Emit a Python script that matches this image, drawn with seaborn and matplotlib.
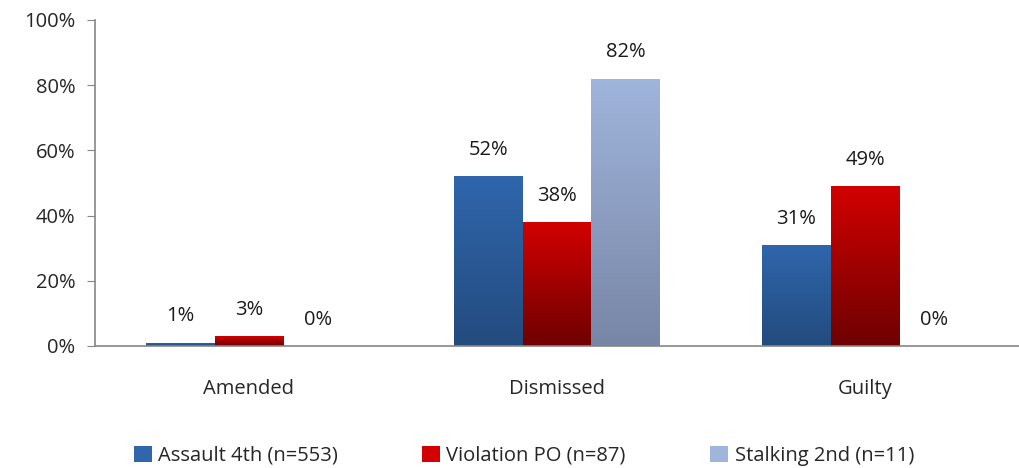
import numpy as np
import pandas as pd
import matplotlib
matplotlib.use("Agg")
import matplotlib.pyplot as plt
import seaborn as sns
from matplotlib.colors import LinearSegmentedColormap
from matplotlib.patches import Patch

categories = ["Amended", "Dismissed", "Guilty"]
series = ["Assault 4th (n=553)", "Violation PO (n=87)", "Stalking 2nd (n=11)"]
assault = [1, 52, 31]
violation = [3, 38, 49]
stalking = [0, 82, 0]

# gradient (top, bottom) per series
grads = [("#2F66AC", "#234B7E"), ("#D20000", "#6E0000"), ("#A0B5DC", "#7886A6")]

df = pd.DataFrame({
    "category": categories * 3,
    "series": [s for s in series for _ in categories],
    "value": assault + violation + stalking,
})

sns.set_style("white")
plt.rcParams["font.family"] = ["Open Sans", "DejaVu Sans"]
FS = 14.5

fig = plt.figure(figsize=(10.19, 4.68), dpi=100)
ax = fig.add_axes([0.0932, 0.2607, 0.9068, 0.6966])

sns.barplot(data=df, x="category", y="value", hue="series", order=categories,
            hue_order=series, width=0.67, ax=ax, legend=False,
            palette=[g[0] for g in grads], saturation=1)

# replace flat fills with vertical gradients
for container, (top, bot) in zip(ax.containers, grads):
    cmap = LinearSegmentedColormap.from_list("g", [bot, top])
    for bar in container:
        h = bar.get_height()
        x0 = bar.get_x()
        w = bar.get_width()
        if h > 0:
            bar.set_facecolor("none")
            bar.set_edgecolor("none")
            grad = np.linspace(0, 1, 256).reshape(-1, 1)
            im = ax.imshow(grad, cmap=cmap, aspect="auto", origin="lower",
                           extent=[x0, x0 + w, 0, h], zorder=2)
            im.set_clip_path(bar)
        ax.annotate(f"{h:.0f}%", (x0 + w / 2, h), xytext=(0, 19),
                    textcoords="offset points", ha="center", va="center",
                    fontsize=FS, color="#1a1a1a")

ax.set_xlim(-0.5, 2.5)
ax.set_ylim(0, 100)
ax.set_yticks(range(0, 101, 20))
ax.set_yticklabels([f"{v}%" for v in range(0, 101, 20)], fontsize=FS)
ax.set_xticks([0, 1, 2])
ax.set_xticklabels(categories, fontsize=FS)
ax.set_xticks([-0.5, 0.5, 1.5, 2.5], minor=True)
ax.tick_params(axis="x", which="major", length=0, pad=24)
ax.tick_params(axis="x", which="minor", length=6, color="#868686", direction="out")
ax.tick_params(axis="y", length=6, color="#868686", direction="out", pad=8, left=True)
ax.set_xlabel("")
ax.set_ylabel("")
for side in ["top", "right"]:
    ax.spines[side].set_visible(False)
for side in ["left", "bottom"]:
    ax.spines[side].set_color("#868686")
    ax.spines[side].set_linewidth(1.2)

handles = [Patch(facecolor=g[0], edgecolor="none") for g in grads]
fig.legend(handles, series, loc="center", bbox_to_anchor=(0.514, 0.026),
           ncol=3, frameon=False, fontsize=FS, handlelength=0.9,
           handleheight=0.9, handletextpad=0.3, columnspacing=4.2)

fig.savefig("out.png", dpi=100)
